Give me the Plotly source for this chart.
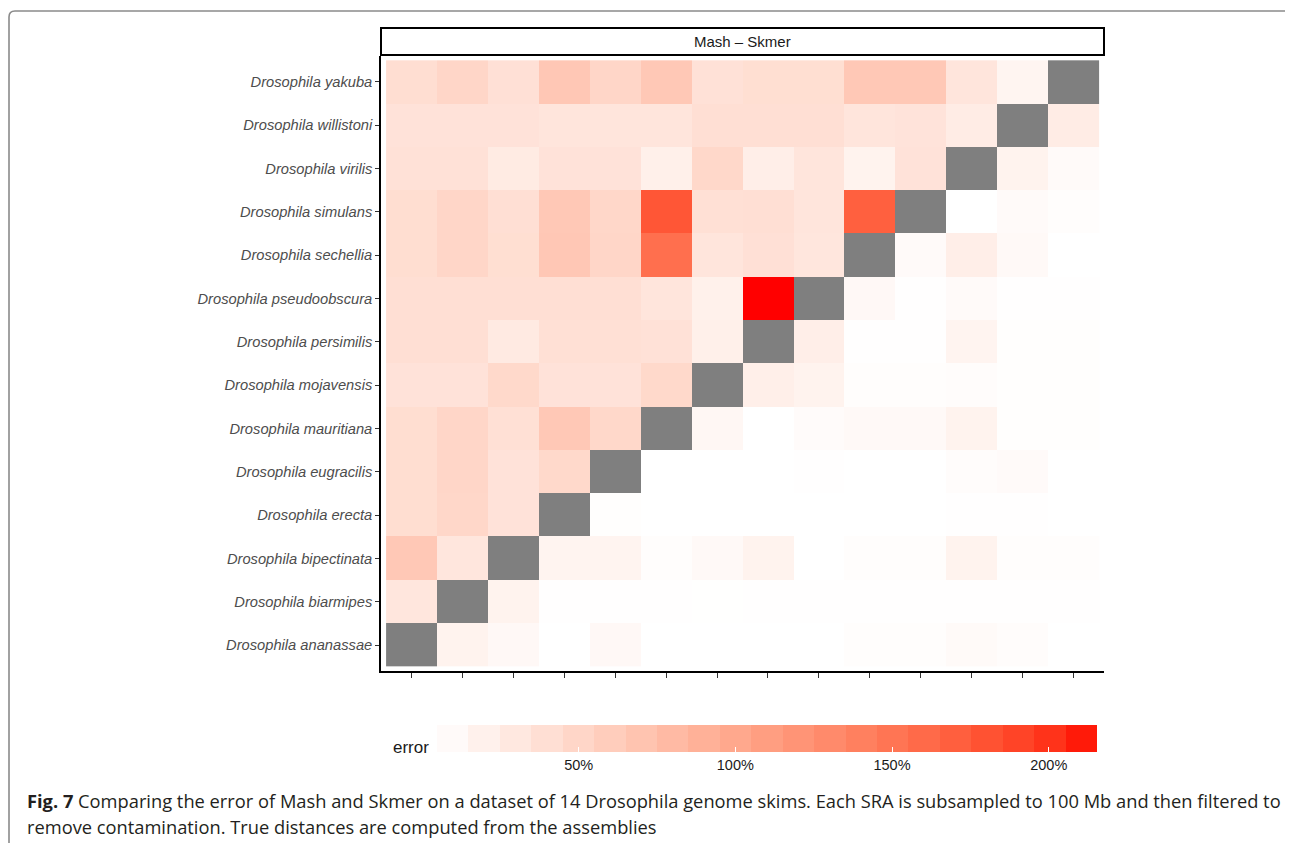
import plotly.graph_objects as go

# ---------------- data ----------------
species = [
    "Drosophila ananassae", "Drosophila biarmipes", "Drosophila bipectinata",
    "Drosophila erecta", "Drosophila eugracilis", "Drosophila mauritiana",
    "Drosophila mojavensis", "Drosophila persimilis", "Drosophila pseudoobscura",
    "Drosophila sechellia", "Drosophila simulans", "Drosophila virilis",
    "Drosophila willistoni", "Drosophila yakuba",
]

N = None  # diagonal (no value)
# error (%) per row species (y) against column species (x, same order as `species`)
err_ananassae      = [N, 18, 12.6, 4.8, 12.6, 4.8, 4.8, 4.8, 4.8, 7, 7, 10.3, 8.2, 4.8]
err_biarmipes      = [32.6, N, 18, 5.5, 5.5, 5.5, 5.2, 5.5, 5.5, 5.5, 5.5, 5.5, 5.5, 5.5]
err_bipectinata    = [65, 32.6, N, 17, 17, 7, 11, 18, 4.8, 7, 7, 18, 7, 7]
err_erecta         = [42, 49, 36, N, 6, 5, 5, 5, 5, 5, 5, 5.5, 5.5, 5]
err_eugracilis     = [42, 50, 36, 47, N, 5, 5, 5, 5.5, 5, 5, 8, 10, 5]
err_mauritiana     = [42, 50, 39, 65, 48, N, 13.7, 5, 9, 11.5, 11.5, 18, 6, 6]
err_mojavensis     = [36, 36, 47, 36, 36, 47, N, 22.5, 18, 7, 7, 7.5, 6, 6]
err_persimilis     = [40, 40, 28, 39, 39, 37, 21.4, N, 23.6, 5.5, 5.5, 17, 6, 6]
err_pseudoobscura  = [40, 40, 40, 40, 40, 33.6, 21, 215.4, N, 12.6, 5.5, 10, 5.5, 5.5]
err_sechellia      = [42, 50, 41, 66, 50, 156, 33.6, 38, 32, N, 10, 23.6, 11, 4.8]
err_simulans       = [42, 50, 40, 65, 49, 177, 39, 40, 33.6, 169, N, 4.8, 10, 7]
err_virilis        = [37, 37, 27, 36, 36, 21.4, 48, 23.6, 33.6, 18, 36, N, 18, 10]
err_willistoni     = [36, 36, 36, 33.6, 33.6, 33.6, 40, 40, 40, 33.6, 35, 26, N, 26]
err_yakuba         = [41.4, 50, 38, 66, 50, 65, 37, 41, 41, 65, 65, 33.6, 16, N]

error_rows = [
    err_ananassae, err_biarmipes, err_bipectinata, err_erecta, err_eugracilis,
    err_mauritiana, err_mojavensis, err_persimilis, err_pseudoobscura,
    err_sechellia, err_simulans, err_virilis, err_willistoni, err_yakuba,
]

error_min = 4.8
error_max = 215.4
tick_vals = [50, 100, 150, 200]
tick_text = ["50%", "100%", "150%", "200%"]

panel_title = "Mash \u2013 Skmer"
legend_title = "error"
caption_bold = "Fig. 7"
caption_line1 = " Comparing the error of Mash and Skmer on a dataset of 14 Drosophila genome skims. Each SRA is subsampled to 100 Mb and then filtered to"
caption_line2 = "remove contamination. True distances are computed from the assemblies"

# ---------------- colour ramp (white -> red in CIELAB, like ggplot) ----------------
def _lab_to_hex(L, a, b):
    fy = (L + 16) / 116
    fx = fy + a / 500
    fz = fy - b / 200

    def finv(t):
        return t ** 3 if t ** 3 > 0.008856 else (t - 16 / 116) / 7.787

    X, Y, Z = 0.95047 * finv(fx), finv(fy), 1.08883 * finv(fz)
    r = 3.2406 * X - 1.5372 * Y - 0.4986 * Z
    g = -0.9689 * X + 1.8758 * Y + 0.0415 * Z
    bb = 0.0557 * X - 0.2040 * Y + 1.0570 * Z

    def gam(c):
        c = min(max(c, 0.0), 1.0)
        return 12.92 * c if c <= 0.0031308 else 1.055 * c ** (1 / 2.4) - 0.055

    return "#%02X%02X%02X" % tuple(int(round(gam(c) * 255)) for c in (r, g, bb))


LOW = (100.0, 0.0, 0.0)
HIGH = (53.2408, 80.0925, 67.2032)


def ramp(t):
    return _lab_to_hex(*[lo + (hi - lo) * t for lo, hi in zip(LOW, HIGH)])


cont_scale = [[i / 100, ramp(i / 100)] for i in range(101)]
nbin = 21
step_scale = []
for i in range(nbin):
    c = ramp((i + 0.5) / nbin)
    step_scale.append([i / nbin, c])
    step_scale.append([(i + 1) / nbin, c])

# ---------------- geometry helpers (page pixels; page has an 8px body margin) ----------------
OFF = 8
FW, FH = 1293 - OFF, 843 - OFF
ML, MR, MT, MB = 381 - OFF, 189, 56 - OFF, 172
PW, PH = FW - ML - MR, FH - MT - MB


def px(x):
    return (x - OFF - ML) / PW


def py(y):
    return (FH - MB - (y - OFF)) / PH


# ---------------- figure ----------------
diag = [[1 if v is None else None for v in row] for row in error_rows]

fig = go.Figure()
fig.add_trace(go.Heatmap(
    x=species, y=species, z=error_rows,
    colorscale=cont_scale, zmin=error_min, zmax=error_max,
    showscale=False, xgap=0, ygap=0,
    hovertemplate="%{y}<br>%{x}<br>%{z:.1f}%<extra></extra>",
))
fig.add_trace(go.Heatmap(
    x=species, y=species, z=diag,
    colorscale=[[0, "#7F7F7F"], [1, "#7F7F7F"]],
    showscale=False, hoverinfo="skip",
))
# colour legend
fig.add_trace(go.Scatter(
    x=[None], y=[None], mode="markers", showlegend=False, hoverinfo="skip",
    marker=dict(
        color=[error_min], cmin=error_min, cmax=error_max,
        colorscale=step_scale, showscale=True,
        colorbar=dict(
            orientation="h", lenmode="pixels", len=660, thickness=27,
            x=px(767), xanchor="center", y=py(725), yanchor="top",
            xpad=0, ypad=0, outlinewidth=0,
            tickvals=tick_vals, ticktext=tick_text,
            ticks="inside", ticklen=5, tickcolor="white", tickwidth=1,
            tickfont=dict(family="Liberation Sans, Arial, sans-serif", size=14.5, color="#1A1A1A"),
        ),
    ),
))

axis_common = dict(
    type="category", categoryorder="array", categoryarray=species,
    range=[-0.6, 13.6], showline=True, linecolor="black", linewidth=1.6,
    ticks="outside", tickcolor="#333333", tickwidth=1.2,
    showgrid=False, zeroline=False, mirror=False, fixedrange=True,
)
fig.update_xaxes(**axis_common, ticklen=5, showticklabels=False)
fig.update_yaxes(
    **axis_common, ticklen=4, tickvals=species, ticktext=species,
    tickfont=dict(family="Liberation Sans, Arial, sans-serif", size=14.7, color="#4D4D4D", style="italic"),
)

shapes = [
    # page frame
    dict(type="path", xref="paper", yref="paper",
         path=f"M {px(9)},{py(860)} L {px(9)},{py(17)} Q {px(9)},{py(11)} {px(15)},{py(11)} "
              f"L {px(1288)},{py(11)} Q {px(1291)},{py(11)} {px(1291)},{py(14)}",
         line=dict(color="#8A8A8A", width=1.6)),
    # facet strip
    dict(type="rect", xref="paper", yref="paper",
         x0=px(381), x1=px(1104), y0=py(55), y1=py(28),
         line=dict(color="black", width=2), fillcolor="white"),
]

annotations = [
    dict(text=panel_title, xref="paper", yref="paper", x=px(742.5), y=py(41.5),
         xanchor="center", yanchor="middle", showarrow=False,
         font=dict(family="Liberation Sans, Arial, sans-serif", size=15, color="#1A1A1A")),
    dict(text=legend_title, xref="paper", yref="paper", x=px(431), y=py(747),
         xanchor="right", yanchor="middle", showarrow=False,
         font=dict(family="Liberation Sans, Arial, sans-serif", size=17, color="#1A1A1A")),
    dict(text=f"<b>{caption_bold}</b>{caption_line1}", xref="paper", yref="paper",
         x=px(25), y=py(800), xanchor="left", yanchor="middle", showarrow=False,
         font=dict(family="Open Sans, Noto Sans, sans-serif", size=18.3, color="#231F20")),
    dict(text=caption_line2, xref="paper", yref="paper",
         x=px(25), y=py(826), xanchor="left", yanchor="middle", showarrow=False,
         font=dict(family="Open Sans, Noto Sans, sans-serif", size=18.3, color="#231F20")),
]

fig.update_layout(
    width=FW, height=FH,
    margin=dict(l=ML, r=MR, t=MT, b=MB, pad=0),
    paper_bgcolor="white", plot_bgcolor="white",
    shapes=shapes, annotations=annotations, showlegend=False,
)

fig.write_html("out.html")
